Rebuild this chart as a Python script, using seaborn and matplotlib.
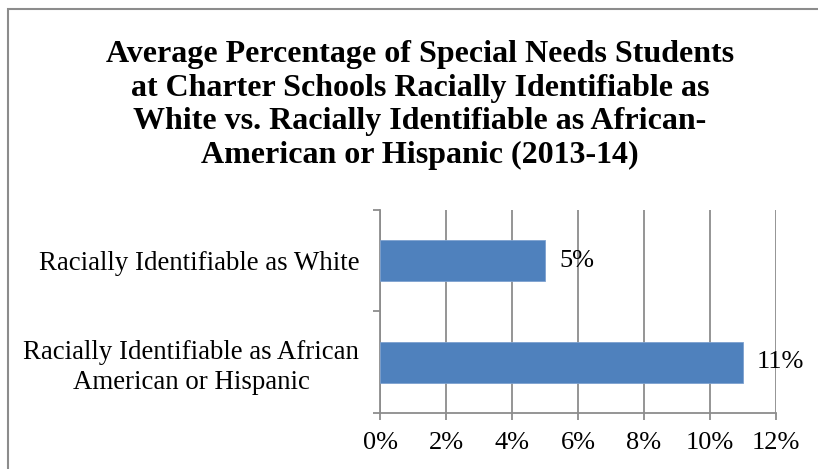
import matplotlib
matplotlib.use("Agg")
import matplotlib.pyplot as plt
import seaborn as sns
import pandas as pd
from matplotlib.patches import Rectangle
from matplotlib.ticker import FixedLocator, FuncFormatter

categories = ["Racially Identifiable as White",
              "Racially Identifiable as African\nAmerican or Hispanic"]
values = [5, 11]
xticks = [0, 2, 4, 6, 8, 10, 12]
title = ("Average Percentage of Special Needs Students\n"
         "at Charter Schools Racially Identifiable as\n"
         "White vs. Racially Identifiable as African-\n"
         "American or Hispanic (2013-14)")

sns.set_theme(style="white")
plt.rcParams['font.family'] = ['Liberation Serif', 'DejaVu Serif']

W, H = 818, 469
fig = plt.figure(figsize=(W / 100, H / 100), dpi=100)
ax = fig.add_axes([380 / W, 1 - 413 / H, (776 - 380) / W, (413 - 210) / H])

df = pd.DataFrame({"cat": categories, "val": values})
sns.barplot(data=df, x="val", y="cat", color="#4F81BD", saturation=1,
            width=0.4, edgecolor="#7DA1CF", linewidth=0.6, ax=ax, zorder=3)

ax.set_xlim(0, 12)
ax.set_ylim(1.5, -0.5)
ax.set_xticks(xticks)
ax.xaxis.set_major_formatter(FuncFormatter(lambda v, p: f"{v:g}%"))
ax.set_xlabel("")
ax.set_ylabel("")

grid_c = "#8C8C8C"
ax.grid(axis="x", color=grid_c, linewidth=1.3, zorder=0)
ax.grid(axis="y", visible=False)
for s in ["top", "right"]:
    ax.spines[s].set_visible(False)
for s in ["left", "bottom"]:
    ax.spines[s].set_color(grid_c)
    ax.spines[s].set_linewidth(1.3)

ax.tick_params(axis="x", which="major", direction="out", length=5, width=1.3,
               color=grid_c, labelsize=19, pad=9, bottom=True)
ax.tick_params(axis="y", which="major", length=0, labelsize=19.4, pad=15)
ax.yaxis.set_minor_locator(FixedLocator([-0.5, 0.5, 1.5]))
ax.tick_params(axis="y", which="minor", direction="out", length=5, width=1.3,
               color=grid_c, left=True)
for lab in ax.get_yticklabels():
    lab.set_multialignment("center")
    lab.set_linespacing(1.25)
    lab.set_color("black")
for lab in ax.get_xticklabels():
    lab.set_color("black")

for c in ax.containers:
    ax.bar_label(c, labels=[f"{v:g}%" for v in values], padding=10,
                 fontsize=19, color="black")

fig.text(420 / W, 1 - 105 / H, title, ha="center", va="center",
         fontsize=23, fontweight="bold", linespacing=1.22, color="black")

fig.patches.append(Rectangle((7.5 / W, -0.1), 1.2, 1 - 9.5 / H + 0.1,
                             transform=fig.transFigure, fill=False,
                             edgecolor="#8C8C8C", linewidth=1.5))

fig.savefig("out.png", dpi=100, facecolor="white")
